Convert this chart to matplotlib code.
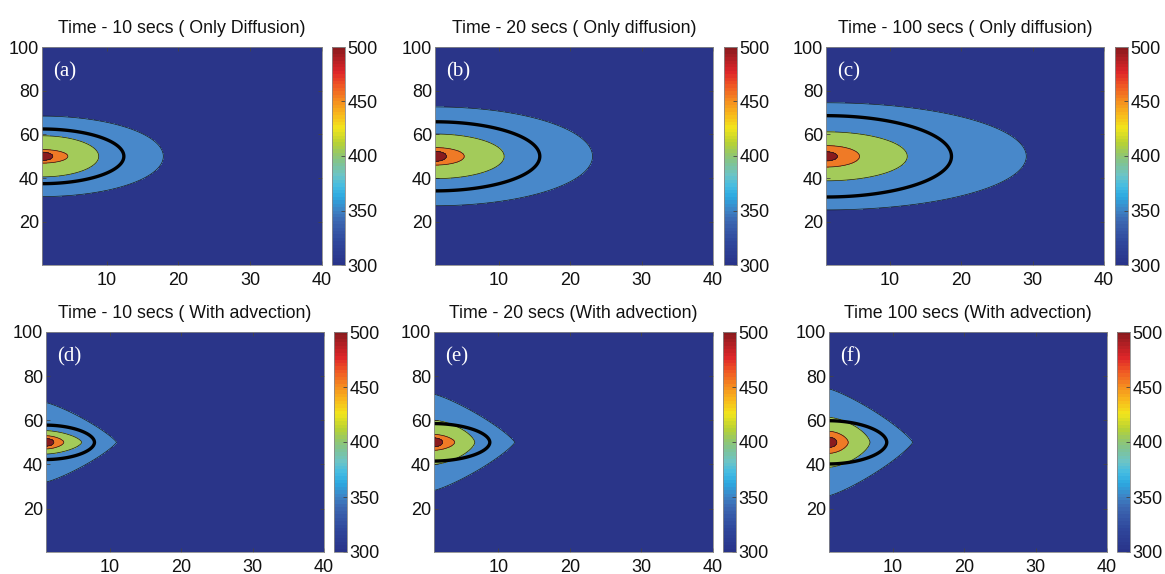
import numpy as np
import matplotlib
matplotlib.use("Agg")
from matplotlib import pyplot as plt
from matplotlib.colors import LinearSegmentedColormap, Normalize
from matplotlib.cm import ScalarMappable

plt.rcParams['font.family'] = ['Liberation Sans', 'DejaVu Sans']

# panel titles and tags
titles = ["Time - 10 secs ( Only Diffusion)", "Time - 20 secs ( Only diffusion)",
          "Time - 100 secs ( Only diffusion)", "Time - 10 secs ( With advection)",
          "Time - 20 secs (With advection)", "Time 100 secs (With advection)"]
tags = ["(a)", "(b)", "(c)", "(d)", "(e)", "(f)"]

# contour boundaries, one row per panel
# order: outer blue, black isotherm, green, orange, dark red
tip_x = [
    [17.9, 12.4, 8.9, 4.6, 2.5],
    [23.1, 15.7, 10.7, 5.1, 2.6],
    [29.1, 18.6, 12.4, 5.7, 2.6],
    [10.9, 7.8, 6.0, 3.5, 2.1],
    [12.3, 8.8, 6.7, 3.9, 2.2],
    [12.75, 9.1, 6.75, 3.7, 2.1],
]
half_y = [
    [18.4, 12.5, 9.4, 3.1, 1.9],
    [22.6, 15.8, 10.2, 4.0, 2.3],
    [24.5, 18.6, 11.2, 4.9, 2.1],
    [18.0, 7.8, 5.3, 3.0, 1.7],
    [21.8, 8.5, 10.0, 3.6, 2.0],
    [24.2, 9.8, 11.3, 5.0, 2.3],
]
# diffusion gives ellipses, advection gives pointed (triangle-like) shapes
shape_exp = [
    [2.0, 2.0, 2.0, 2.0, 2.0],
    [2.0, 2.0, 2.0, 2.0, 2.0],
    [2.0, 2.0, 2.0, 2.0, 2.0],
    [1.2, 1.9, 1.6, 1.7, 2.0],
    [1.2, 1.9, 1.55, 1.7, 2.0],
    [1.2, 1.9, 1.55, 1.7, 2.0],
]
center_y = 50.0

fill_colors = ["#4888CA", None, "#A3CB5A", "#EF7A26", "#8A1B1E"]
bg_color = "#2A3589"

# colorbar scale (MATLAB jet, as printed)
cbar_vals = [300, 320, 340, 350, 362, 372, 382, 392, 402, 412, 426, 440, 452, 466, 478, 490, 500]
cbar_cols = ["#29348A", "#2F479C", "#3C68B2", "#3D85C6", "#2CA9E1", "#45BCE2", "#6CC4C6",
             "#7DC39A", "#94C76A", "#B7D234", "#F2E51C", "#F8B41C", "#F58A20", "#EF5424",
             "#DE2629", "#B21F24", "#8A1B1E"]
cmap = LinearSegmentedColormap.from_list(
    "jetprint", [((v - 300) / 200, c) for v, c in zip(cbar_vals, cbar_cols)], N=64)
norm = Normalize(300, 500)

# axes and colorbar boxes in pixels (left, right, top, bottom)
ax_boxes = [(42, 322, 47, 265), (435, 713, 47, 265), (826, 1104, 47, 265),
            (46, 324, 332, 552), (434, 713, 332, 552), (829, 1107, 332, 552)]
cb_boxes = [(332, 345), (724, 737), (1115, 1128), (334, 347), (723, 736), (1117, 1130)]
W, H = 1165, 574

fig = plt.figure(figsize=(W / 100, H / 100), dpi=100)

xg = np.linspace(1, 40, 500)
yg = np.linspace(0, 100, 700)
X, Y = np.meshgrid(xg, yg)


def frac(l, r, t, b):
    return [l / W, 1 - b / H, (r - l) / W, (b - t) / H]


for i in range(6):
    l, r, t, b = ax_boxes[i]
    ax = fig.add_axes(frac(l, r, t, b))
    ax.set_facecolor(bg_color)
    shapes = []
    for k in range(5):
        a = tip_x[i][k] - 1
        p = shape_exp[i][k]
        s = (np.abs(X - 1) / a) ** p + (np.abs(Y - center_y) / half_y[i][k]) ** p
        shapes.append(s)
    for k in [0, 2, 3, 4]:
        ax.contourf(X, Y, shapes[k], levels=[-1, 1], colors=[fill_colors[k]])
        ax.contour(X, Y, shapes[k], levels=[1], colors="#1a1a1a", linewidths=0.5)
    ax.contour(X, Y, shapes[1], levels=[1], colors="black", linewidths=2.4)

    ax.set_xlim(1, 40)
    ax.set_ylim(0.3, 100)
    ax.set_xticks([10, 20, 30, 40])
    ax.set_yticks([20, 40, 60, 80, 100])
    ax.tick_params(direction="in", top=True, right=True, length=3, width=0.6,
                   color="#444444", labelsize=13, pad=2, labelcolor="#111111")
    ax.tick_params(axis="x", pad=5)
    for sp in ax.spines.values():
        sp.set_color("#888888")
        sp.set_linewidth(0.6)
    ax.set_title(titles[i], fontsize=12.8, pad=10, color="#111111")
    ax.text(0.04, 0.93, tags[i], transform=ax.transAxes, ha="left", va="top",
            color="white", fontsize=15, family="Liberation Serif")

    cl, cr = cb_boxes[i]
    cax = fig.add_axes(frac(cl, cr, t, b))
    cb = fig.colorbar(ScalarMappable(norm=norm, cmap=cmap), cax=cax,
                      ticks=[300, 350, 400, 450, 500])
    cb.outline.set_edgecolor("#888888")
    cb.outline.set_linewidth(0.6)
    cax.tick_params(direction="in", length=3, width=0.6, color="#444444",
                    labelsize=13, pad=2, labelcolor="#111111")

fig.savefig("out.png", dpi=100)
